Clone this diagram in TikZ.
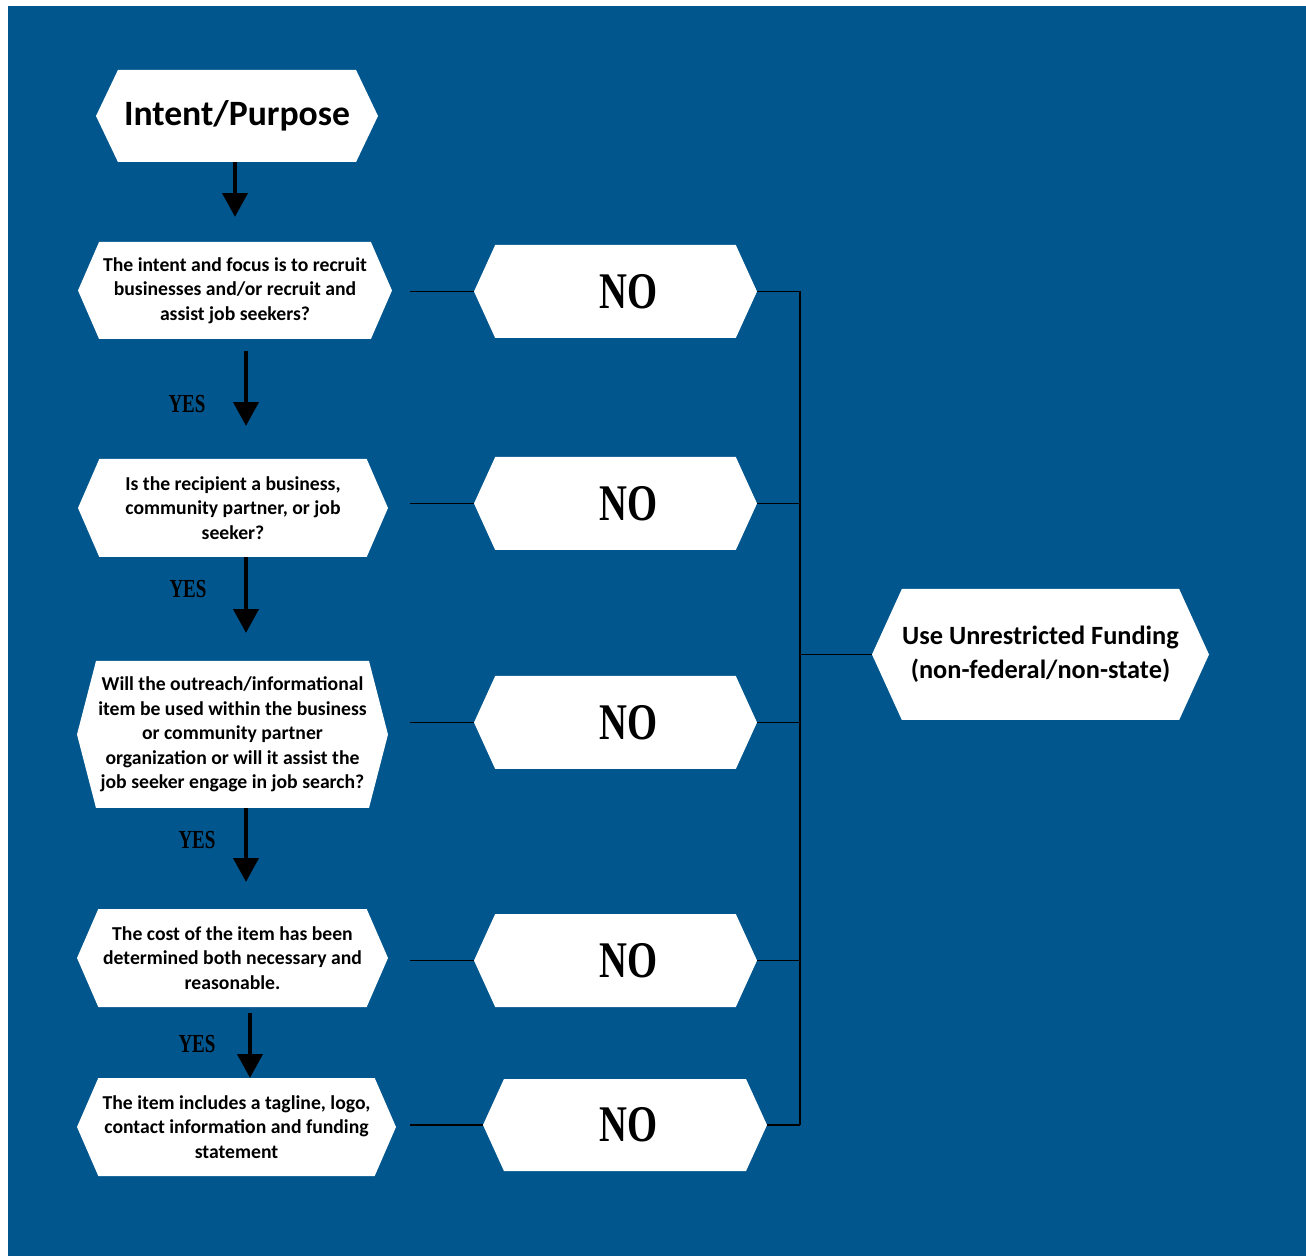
\documentclass[tikz,border=0pt]{standalone}
\usepackage{fontspec}
\setmainfont{Carlito}
\newfontfamily\signfont{Liberation Serif}
\usetikzlibrary{arrows.meta, shapes.symbols}
\definecolor{bgblue}{HTML}{02568E}
\definecolor{ink}{HTML}{000000}

\begin{document}
\begin{tikzpicture}[
    x=0.02cm, y=-0.02cm,
    every node/.style={text=ink},
    hexbox/.style={shape=signal, signal to=east and west, signal from=nowhere,
        signal pointer angle=131, fill=white, draw=none, inner sep=0pt, outer sep=0pt, align=center},
    ask/.style={hexbox, font=\bfseries\fontsize{11.2}{13.9}\selectfont, minimum width=311*0.02cm, minimum height=98*0.02cm, signal pointer angle=133},
    nobox/.style={hexbox, font=\signfont\bfseries\fontsize{22}{24}\selectfont, minimum width=283*0.02cm, minimum height=93*0.02cm},
    yes/.style={font=\signfont\bfseries\fontsize{10.8}{12}\selectfont, inner sep=0pt},
    flow/.style={ink, line width=2.8pt, -{Triangle[length=13.6pt, width=14pt]}},
    link/.style={ink, line width=0.75pt},
]
% page and blue panel
\useasboundingbox (0,0) rectangle (1306,1256);
\fill[white] (0,0) rectangle (1306,1256);
\fill[bgblue] (8,6) rectangle (1306,1256);

% ---------------- left column
\node[hexbox, minimum width=282*0.02cm, minimum height=92*0.02cm, signal pointer angle=129,
      font=\bfseries\fontsize{20.3}{24}\selectfont] (intent) at (237,116) {Intent/Purpose};
\node[ask, minimum width=314*0.02cm, minimum height=97*0.02cm] (q1) at (235,290.5)
    {The intent and focus is to recruit\\ businesses and/or recruit and\\ assist job seekers?};
\node[ask, minimum width=310*0.02cm] (q2) at (233,508)
    {Is the recipient a business,\\ community partner, or job\\ seeker?};
\node[ask, minimum height=147*0.02cm, signal pointer angle=151] (q3) at (232.5,734.5)
    {Will the outreach/informational\\ item be used within the business\\ or community partner\\ organization or will it assist the\\ job seeker engage in job search?};
\node[ask] (q4) at (232.5,958)
    {The cost of the item has been\\ determined both necessary and\\ reasonable.};
\node[ask, minimum width=319*0.02cm] (q5) at (236.5,1127)
    {The item includes a tagline, logo,\\ contact information and funding\\ statement};

\foreach \a/\b/\dx/\s/\e in {intent/q1/-2/0/25, q1/q2/11/12/33, q2/q3/13/0/28, q3/q4/13.5/0/27, q4/q5/17.5/6/0}{
    \draw[flow] ([shift={(\dx,\s)}]\a.south) -- ([shift={(\dx,-\e)}]\a.south |- \b.north);
}
\foreach \n/\x/\y in {1/187/404, 2/188/589, 3/197/840, 4/197/1044}{
    \node[yes] (yes\n) at (\x,\y) {\scalebox{1}[1.37]{YES}};
}

% ---------------- NO column (text sits right of centre)
\foreach \n/\y in {1/291.5, 2/503.5, 3/722.5, 4/960.5}{
    \node[nobox] (no\n) at (615.5,\y) {\hspace*{14.7pt}\scalebox{1}[1.33]{NO}};
}
\node[nobox, minimum width=284*0.02cm, minimum height=92*0.02cm] (no5) at (625,1125)
    {\hspace*{4.5pt}\scalebox{1}[1.33]{NO}};

% ---------------- outcome
\node[hexbox, minimum width=337*0.02cm, minimum height=131*0.02cm,
      font=\bfseries\fontsize{15}{19.3}\selectfont] (use) at (1040.5,654.5)
    {Use Unrestricted Funding\\ (non-federal/non-state)};

% connectors
\coordinate (tap) at (410,0);
\coordinate (bus) at (800,0);
\foreach \n in {1,...,5}{
    \draw[link] (no\n.west -| tap) -- (no\n.west);
    \draw[link] (no\n.east) -- (no\n.east -| bus);
}
\draw[link] (no1.east -| bus) -- (no5.east -| bus);
\draw[link] (use.west -| bus) -- (use.west);
\end{tikzpicture}
\end{document}
